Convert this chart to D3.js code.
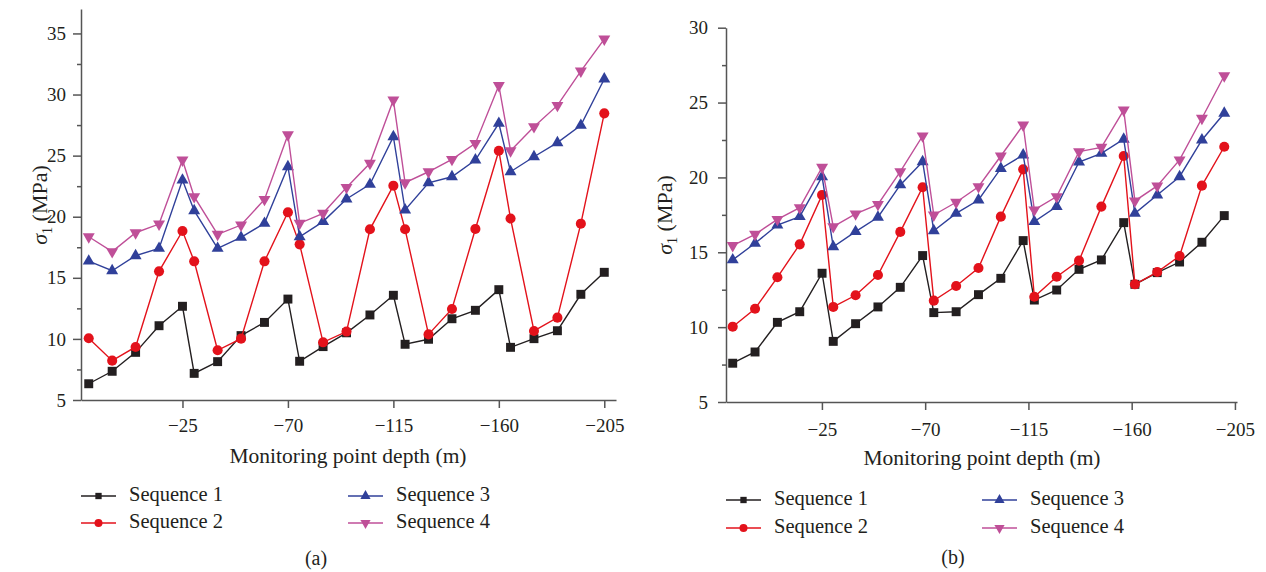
<!DOCTYPE html>
<html>
<head>
<meta charset="utf-8">
<script src="https://cdn.jsdelivr.net/npm/d3@7"></script>
<style>
  body { margin: 0; background: #fff; }
  svg, svg text { font-family: "Liberation Serif", "Times New Roman", serif; }
</style>
</head>
<body>
<div id="chart"></div>
<script>
// monitoring point depths (m)
const depth = [15, 5, -5, -15, -25, -30, -40, -50, -60, -70, -75, -85, -95, -105, -115,
  -120, -130, -140, -150, -160, -165, -175, -185, -195, -205];
const depthTicks = [-25, -70, -115, -160, -205];
const seriesNames = ["Sequence 1", "Sequence 2", "Sequence 3", "Sequence 4"];

// panel (a) sigma_1 values (MPa)
const a1 = [6.33, 7.35, 8.9, 11.08, 12.67, 7.18, 8.14, 10.27, 11.35, 13.26, 8.17, 9.37, 10.5, 11.96, 13.57,
  9.56, 9.97, 11.65, 12.34, 14.03, 9.31, 10.02, 10.67, 13.65, 15.45];
const a2 = [10.05, 8.22, 9.34, 15.53, 18.83, 16.35, 9.07, 10.02, 16.35, 20.36, 17.74, 9.72, 10.6, 18.97, 22.54,
  18.97, 10.37, 12.45, 19.0, 25.4, 19.85, 10.65, 11.74, 19.43, 28.46];
const a3 = [16.37, 15.58, 16.81, 17.41, 23.0, 20.49, 17.41, 18.31, 19.46, 24.09, 18.36, 19.6, 21.45, 22.65, 26.55,
  20.55, 22.78, 23.27, 24.64, 27.64, 23.68, 24.91, 26.06, 27.48, 31.27];
const a4 = [18.36, 17.14, 18.69, 19.4, 24.64, 21.64, 18.56, 19.32, 21.42, 26.71, 19.46, 20.28, 22.4, 24.37, 29.55,
  22.78, 23.68, 24.69, 26.0, 30.74, 25.4, 27.37, 29.11, 31.92, 34.54];

// panel (b) sigma_1 values (MPa)
const b1 = [7.59, 8.34, 10.32, 11.03, 13.6, 9.05, 10.23, 11.35, 12.66, 14.78, 10.97, 11.03, 12.17, 13.26, 15.78,
  11.81, 12.48, 13.86, 14.49, 16.98, 12.86, 13.64, 14.35, 15.67, 17.45];
const b2 = [10.03, 11.23, 13.33, 15.53, 18.83, 11.35, 12.13, 13.48, 16.36, 19.34, 11.77, 12.75, 13.95, 17.38, 20.54,
  12.03, 13.37, 14.44, 18.05, 21.43, 12.86, 13.68, 14.75, 19.45, 22.05];
const b3 = [14.49, 15.6, 16.82, 17.38, 20.05, 15.37, 16.38, 17.34, 19.5, 21.05, 16.44, 17.6, 18.49, 20.6, 21.5,
  17.05, 18.05, 21.03, 21.61, 22.55, 17.6, 18.83, 20.05, 22.5, 24.29];
const b4 = [15.45, 16.2, 17.2, 17.98, 20.68, 16.71, 17.56, 18.2, 20.39, 22.77, 17.49, 18.34, 19.38, 21.43, 23.5,
  17.83, 18.72, 21.72, 22.01, 24.5, 18.43, 19.43, 21.17, 23.95, 26.79];

const aTicks = [5, 10, 15, 20, 25, 30, 35];
const bTicks = [5, 10, 15, 20, 25, 30];

const colors = ["#231f20", "#e3121b", "#30409a", "#bf4f98"];
const symbols = [d3.symbolSquare, d3.symbolCircle, d3.symbolTriangle, d3.symbolTriangle];
const rotate = [0, 0, 0, 180];
const markSize = [80, 80, 62, 62];
const legSize = [40, 50, 45, 45];

const width = 1266, height = 572;
const svg = d3.select("#chart").append("svg").attr("width", width).attr("height", height);

const serif = '"Liberation Serif", "Times New Roman", serif';
const textColor = "#231f20";
const axisColor = "#555";

function panel(p) {
  const g = svg.append("g");
  const x = d3.scaleLinear().domain(p.xDomain).range([p.left, p.right]);
  // tick positions (panel b ticks are spread slightly wider than points)
  const xt = d3.scaleLinear().domain(p.xTickDomain).range([p.left, p.right]);
  const y = d3.scaleLinear().domain(p.yDomain).range([p.bottom, p.top]);

  // x axis
  g.append("g")
    .attr("transform", `translate(0,${p.bottom})`)
    .call(d3.axisBottom(xt).tickValues(depthTicks).tickSize(8).tickSizeOuter(0)
      .tickPadding(p.xPad).tickFormat(d => "\u2212" + Math.abs(d)));

  // y axis with minor ticks
  g.append("g")
    .attr("transform", `translate(${p.left},0)`)
    .call(d3.axisLeft(y).tickValues(p.yTicks).tickSize(8).tickSizeOuter(0).tickPadding(p.yPad));
  const minor = p.yTicks.slice(0, -1).map(v => v + 2.5).filter(v => v < p.yDomain[1]);
  g.append("g")
    .attr("transform", `translate(${p.left},0)`)
    .call(d3.axisLeft(y).tickValues(minor).tickSize(4).tickFormat(""))
    .call(s => s.select(".domain").remove());

  g.selectAll("g").attr("font-family", null);
  g.selectAll(".domain, .tick line").attr("stroke", axisColor).attr("stroke-width", 1.5);
  g.selectAll(".tick text").attr("font-size", 19).attr("fill", textColor)
    .style("font-family", serif);

  // axis titles
  g.append("text")
    .attr("x", p.xTitle[0]).attr("y", p.xTitle[1])
    .attr("text-anchor", "middle").attr("font-size", 21.5).attr("fill", textColor)
    .text("Monitoring point depth (m)");

  const yl = g.append("text")
    .attr("transform", `translate(${p.yTitle[0]},${p.yTitle[1]}) rotate(-90)`)
    .attr("text-anchor", "middle").attr("font-size", 22).attr("fill", textColor);
  yl.append("tspan").attr("font-style", "italic").text("\u03c3");
  yl.append("tspan").attr("font-size", 14).attr("dy", 5).text("1");
  yl.append("tspan").attr("dy", -5).text(" (MPa)");

  // series: lines then markers, in order
  const line = d3.line().x((d, i) => x(depth[i])).y(d => y(d));
  p.series.forEach((vals, k) => {
    g.append("path")
      .datum(vals)
      .attr("fill", "none")
      .attr("stroke", colors[k])
      .attr("stroke-width", 1.4)
      .attr("d", line);
    g.append("g")
      .selectAll("path")
      .data(vals)
      .join("path")
      .attr("transform", (d, i) => `translate(${x(depth[i])},${y(d)}) rotate(${rotate[k]})`)
      .attr("d", d3.symbol().type(symbols[k]).size(markSize[k]))
      .attr("fill", colors[k]);
  });

  // legend
  const leg = g.append("g");
  seriesNames.forEach((name, k) => {
    const lx = p.legend[0] + (k >= 2 ? p.legendCol : 0);
    const ly = p.legend[1] + (k % 2) * p.legendRow;
    leg.append("line")
      .attr("x1", lx).attr("x2", lx + 35)
      .attr("y1", ly).attr("y2", ly)
      .attr("stroke", colors[k]).attr("stroke-width", 1.4);
    leg.append("path")
      .attr("transform", `translate(${lx + 17.5},${ly}) rotate(${rotate[k]})`)
      .attr("d", d3.symbol().type(symbols[k]).size(legSize[k]))
      .attr("fill", colors[k]);
    leg.append("text")
      .attr("x", lx + 48).attr("y", ly + 5)
      .attr("font-size", 20.5).attr("fill", textColor)
      .text(name);
  });

  g.append("text")
    .attr("x", p.tag[0]).attr("y", p.tag[1])
    .attr("text-anchor", "middle").attr("font-size", 20).attr("fill", textColor)
    .text(p.tagText);
}

panel({
  left: 81, right: 616, top: 9, bottom: 400,
  xDomain: [18.3, -210], xTickDomain: [18.3, -210],
  yDomain: [5, 37], yTicks: aTicks,
  xPad: 11, yPad: 7,
  xTitle: [348, 463], yTitle: [47, 205],
  legend: [81, 496], legendRow: 27, legendCol: 267,
  tag: [316, 565], tagText: "(a)",
  series: [a1, a2, a3, a4]
});

panel({
  left: 726, right: 1237, top: 27.7, bottom: 402,
  xDomain: [18, -210.7], xTickDomain: [16.8, -205.9],
  yDomain: [5, 30], yTicks: bTicks,
  xPad: 12.5, yPad: 10,
  xTitle: [982, 465], yTitle: [672, 215],
  legend: [726, 500], legendRow: 28, legendCol: 256,
  tag: [953, 564], tagText: "(b)",
  series: [b1, b2, b3, b4]
});
</script>
</body>
</html>
